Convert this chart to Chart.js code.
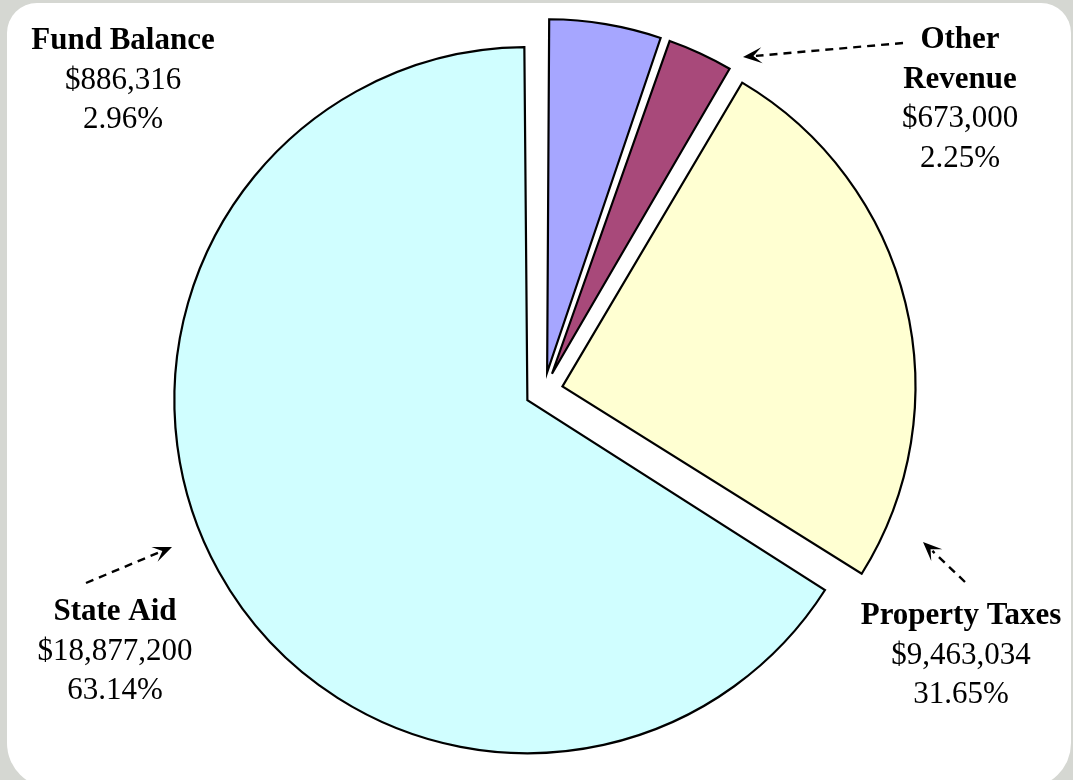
<!DOCTYPE html>
<html>
<head>
<meta charset="utf-8">
<script src="https://cdn.jsdelivr.net/npm/chart.js@4/dist/chart.umd.min.js"></script>
<style>
  html, body { margin: 0; padding: 0; width: 1073px; height: 780px; overflow: hidden; background: #D5D7D2; }
  #panel { position: absolute; left: 7px; top: 3px; width: 1064px; height: 785px; background: #ffffff;
           border-radius: 30px 30px 45px 45px; }
  #c { position: absolute; left: 0; top: 0; }
</style>
</head>
<body>
<div id="panel"></div>
<canvas id="c" width="1073" height="780"></canvas>
<script>
// ---- data ----
const categories = ['Fund Balance', 'Other Revenue', 'Property Taxes', 'State Aid'];
const nameLines = [['Fund Balance'], ['Other', 'Revenue'], ['Property Taxes'], ['State Aid']];
const amountLabels = ['$886,316', '$673,000', '$9,463,034', '$18,877,200'];
const percentLabels = ['2.96%', '2.25%', '31.65%', '63.14%'];
// share of the pie as drawn in the picture (percent)
const sliceShares = [5.3, 3.2, 25.4, 66.1];
const sliceColors = ['#A6A6FF', '#A8497A', '#FFFFD2', '#D0FEFF'];

// ---- style / layout ----
const PIE_RADIUS = 353;
const EXPLODE = 19;          // visible explode distance in px
const labelAnchors = [
  { x: 123, y: 49 },
  { x: 960, y: 48 },
  { x: 961, y: 624 },
  { x: 115, y: 620 }
];
const lineStep = 39.7;
const arrows = [
  null,
  { from: [903, 43], to: [743, 57] },
  { from: [965, 582], to: [923, 542] },
  { from: [86, 583], to: [172, 547] }
];

// Chart.js enlarges exploded arcs by offset*(1-sin(circ)); keep all slices at the same radius
const equalRadiusPlugin = {
  id: 'equalRadius',
  beforeDatasetsDraw(chart) {
    const meta = chart.getDatasetMeta(0);
    meta.data.forEach(arc => {
      const circ = arc.circumference;
      const fix = 1 - Math.sin(Math.min(Math.PI, circ || 0));
      arc.outerRadius = PIE_RADIUS - EXPLODE * fix;
    });
  }
};

const annotationPlugin = {
  id: 'annotations',
  afterDraw(chart) {
    const ctx = chart.ctx;
    ctx.save();
    ctx.fillStyle = '#000';
    ctx.textAlign = 'center';
    ctx.textBaseline = 'alphabetic';
    categories.forEach((cat, i) => {
      const a = labelAnchors[i];
      let y = a.y;
      ctx.font = 'bold 31px "Liberation Serif", "Times New Roman", serif';
      nameLines[i].forEach(line => { ctx.fillText(line, a.x, y); y += lineStep; });
      ctx.font = '31px "Liberation Serif", "Times New Roman", serif';
      ctx.fillText(amountLabels[i], a.x, y); y += lineStep;
      ctx.fillText(percentLabels[i], a.x, y);
    });
    arrows.forEach(ar => {
      if (!ar) return;
      const [x1, y1] = ar.from, [x2, y2] = ar.to;
      const ang = Math.atan2(y2 - y1, x2 - x1);
      const headLen = 19, headW = 8;
      const bx = x2 - Math.cos(ang) * (headLen - 6), by = y2 - Math.sin(ang) * (headLen - 6);
      ctx.strokeStyle = '#000';
      ctx.lineWidth = 2.4;
      ctx.setLineDash([8, 6]);
      ctx.beginPath();
      ctx.moveTo(x1, y1);
      ctx.lineTo(bx, by);
      ctx.stroke();
      ctx.setLineDash([]);
      const px = -Math.sin(ang), py = Math.cos(ang);
      const hx = x2 - Math.cos(ang) * headLen, hy = y2 - Math.sin(ang) * headLen;
      ctx.beginPath();
      ctx.moveTo(x2, y2);
      ctx.lineTo(hx + px * headW, hy + py * headW);
      ctx.lineTo(x2 - Math.cos(ang) * (headLen * 0.55), y2 - Math.sin(ang) * (headLen * 0.55));
      ctx.lineTo(hx - px * headW, hy - py * headW);
      ctx.closePath();
      ctx.fill();
    });
    ctx.restore();
  }
};

new Chart(document.getElementById('c'), {
  type: 'pie',
  data: {
    labels: categories,
    datasets: [{
      data: sliceShares,
      backgroundColor: sliceColors,
      borderColor: '#000000',
      borderWidth: 2.2,
      borderJoinStyle: 'miter',
      offset: EXPLODE * 4,   // Chart.js v4 arcs move by offset/4
      hoverOffset: 0
    }]
  },
  options: {
    responsive: false,
    animation: false,
    radius: PIE_RADIUS,
    layout: { padding: { left: 15, right: 0, top: 2, bottom: 0 } },
    plugins: { legend: { display: false }, tooltip: { enabled: false } },
    events: []
  },
  plugins: [equalRadiusPlugin, annotationPlugin]
});
</script>
</body>
</html>
